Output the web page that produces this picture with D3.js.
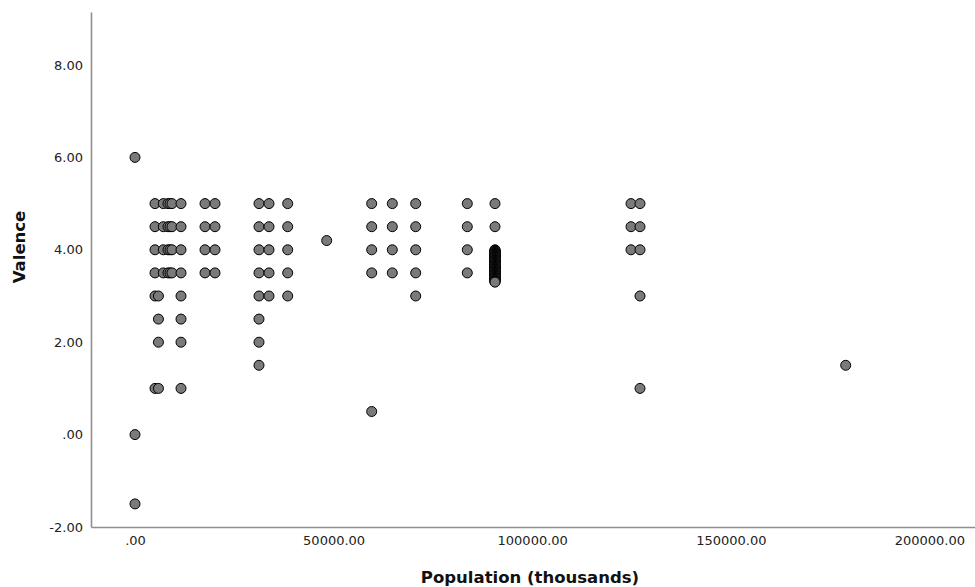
<!DOCTYPE html>
<html>
<head>
<meta charset="utf-8">
<script src="https://cdn.jsdelivr.net/npm/d3@7"></script>
<style>
  html, body { margin: 0; padding: 0; background: #fff; }
  svg { display: block; }
</style>
</head>
<body>
<svg id="chart" width="975" height="587"></svg>
<script>
// ---- data ----
const popColumns = [0, 5035, 5900, 7125, 8300, 8812, 9315, 11581, 17623, 20141,
  31218, 33736, 38444, 48263, 59592, 64778, 70670, 83661, 90634, 124874, 127140, 178927];
const valenceByColumn = [
  [6, 0, -1.5],
  [5, 4.5, 4, 3.5, 3, 1],
  [3, 2.5, 2, 1],
  [5, 4.5, 4, 3.5],
  [5, 4.5, 4, 3.5],
  [5, 4.5, 4, 3.5],
  [5, 4.5, 4, 3.5],
  [5, 4.5, 4, 3.5, 3, 2.5, 2, 1],
  [5, 4.5, 4, 3.5],
  [5, 4.5, 4, 3.5],
  [5, 4.5, 4, 3.5, 3, 2.5, 2, 1.5],
  [5, 4.5, 4, 3.5, 3],
  [5, 4.5, 4, 3.5, 3],
  [4.2],
  [5, 4.5, 4, 3.5, 0.5],
  [5, 4.5, 4, 3.5],
  [5, 4.5, 4, 3.5, 3],
  [5, 4.5, 4, 3.5],
  [5, 4.5, 4.0, 3.99, 3.98, 3.97, 3.96, 3.95, 3.94, 3.93, 3.92, 3.91, 3.9, 3.89, 3.88,
   3.87, 3.86, 3.85, 3.84, 3.83, 3.82, 3.81, 3.8, 3.79, 3.78, 3.77, 3.76, 3.75, 3.74,
   3.73, 3.72, 3.71, 3.7, 3.69, 3.68, 3.67, 3.66, 3.65, 3.64, 3.63, 3.62, 3.61, 3.6,
   3.59, 3.58, 3.57, 3.56, 3.55, 3.54, 3.53, 3.52, 3.51, 3.5, 3.49, 3.48, 3.47, 3.46,
   3.45, 3.44, 3.43, 3.42, 3.41, 3.4, 3.39, 3.38, 3.37, 3.36, 3.35, 3.34, 3.33, 3.32,
   3.31, 3.3],
  [5, 4.5, 4],
  [5, 4.5, 4, 3, 1],
  [1.5]
];
const xTicks = [0, 50000, 100000, 150000, 200000];
const yTicks = [-2, 0, 2, 4, 6, 8];
const xTitle = "Population (thousands)";
const yTitle = "Valence";

// ---- build points ----
const points = [];
popColumns.forEach((p, i) => valenceByColumn[i].forEach(v => points.push({pop: p, val: v})));

const svg = d3.select("#chart");
const x = d3.scaleLinear().domain([-11078, 211480]).range([91, 975]);
const y = d3.scaleLinear().domain([-2, 9.147]).range([527, 12]);

const fmt = v => v === 0 ? ".00" : d3.format(".2f")(v).replace("\u2212", "-");
const fontFam = "'DejaVu Sans', sans-serif";

// x axis
const gx = svg.append("g").attr("transform", "translate(0,527)")
  .call(d3.axisBottom(x).tickValues(xTicks).tickFormat(fmt).tickSize(0).tickPadding(9));
gx.select(".domain").attr("stroke", "#8f8f8f").attr("stroke-width", 1.6);
gx.selectAll("text").attr("font-family", fontFam).attr("font-size", 13).attr("fill", "#222");

// y axis
const gy = svg.append("g").attr("transform", "translate(91,0)")
  .call(d3.axisLeft(y).tickValues(yTicks).tickFormat(fmt).tickSize(0).tickPadding(8));
gy.select(".domain").attr("stroke", "#8f8f8f").attr("stroke-width", 1.6);
gy.selectAll("text").attr("font-family", fontFam).attr("font-size", 13).attr("fill", "#222");

// points
svg.append("g").selectAll("circle").data(points).join("circle")
  .attr("cx", d => x(d.pop))
  .attr("cy", d => y(d.val))
  .attr("r", 5)
  .attr("fill", "#7a7a7a")
  .attr("stroke", "#000")
  .attr("stroke-width", 1);

// titles
svg.append("text").attr("x", 530).attr("y", 583)
  .attr("text-anchor", "middle").attr("font-family", fontFam)
  .attr("font-weight", "bold").attr("font-size", 16.5).attr("fill", "#111")
  .text(xTitle);
svg.append("text").attr("transform", "translate(25,247) rotate(-90)")
  .attr("text-anchor", "middle").attr("font-family", fontFam)
  .attr("font-weight", "bold").attr("font-size", 16.5).attr("fill", "#111")
  .text(yTitle);
</script>
</body>
</html>
